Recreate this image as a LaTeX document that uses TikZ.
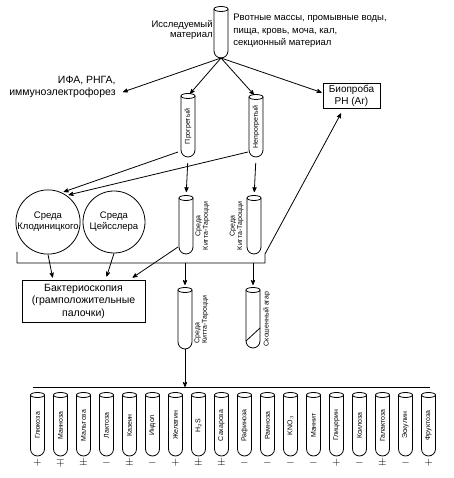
\documentclass[tikz,border=0pt]{standalone}
\usepackage{fontspec}
\setmainfont{Liberation Sans}
\usetikzlibrary{arrows,calc,positioning}

% test tube: name, centre, length, label
\newcommand{\probirka}[4]{%
  \node[tube, minimum width=#3] (#1) at #2 {#4};
  \draw (#1.north east) -- ($(#1.north west)+(0,7pt)$) arc (180:360:7pt) -- (#1.south east);
  \draw (#1.east) ellipse (7pt and 2.5pt);
}

\begin{document}
\begin{tikzpicture}[>=stealth', x=1pt, y=1pt, line width=0.8pt,
    tube/.style={rotate=90, minimum height=14pt, inner sep=0pt, outer sep=0pt, font=\fontsize{7}{8}\selectfont},
    side/.style={rotate=90, anchor=north, inner sep=1pt, font=\fontsize{7}{7.5}\selectfont},
    txt/.style={inner sep=0pt, font=\fontsize{9.5}{12.5}\selectfont},
    box/.style={draw, align=center, inner sep=1pt, font=\fontsize{10.5}{12.5}\selectfont},
    medium/.style={draw, circle, inner sep=0pt, align=center, font=\fontsize{9.5}{11}\selectfont},
    sign/.style={anchor=north, inner sep=0pt, font=\fontsize{11}{11}\selectfont}]
    \useasboundingbox (0,0) rectangle (453,478);

    % material
    \probirka{mat}{(221,444.5)}{49}{}
    \node[txt, align=right, anchor=east, font=\fontsize{9.5}{10.5}\selectfont] (src) at (213,448) {Исследуемый\\материал};
    \node[txt, align=left, anchor=west] (kinds) at (233,447) {Рвотные массы, промывные воды,\\пища, кровь, моча, кал,\\секционный материал};

    \node[txt, align=right, anchor=east, font=\fontsize{10.5}{12}\selectfont] (ifa) at (116,391) {ИФА, РНГА,\\иммуноэлектрофорез};
    \node[box, minimum width=57pt, minimum height=25pt, font=\fontsize{10}{12}\selectfont] (bio) at (351.5,382.5) {Биопроба\\РН (Аг)};

    \probirka{warm}{(188,351.5)}{61}{Прогретый}
    \probirka{cold}{(256,351)}{60}{Непрогретый}

    \path[->] (mat.west) edge ($(ifa.east)+(7,-5)$)
                         edge [shorten >=3pt] (warm.east)
                         edge [shorten >=3pt] (cold.east)
                         edge ($(bio.west)+(-1,3)$);

    % media
    \node[medium, minimum size=64pt] (klod) at (48,256) {Среда\\Клодиницкого};
    \node[medium, minimum size=62pt] (zeis) at (114,256) {Среда\\Цейсслера};

    \probirka{kt1}{(186,252)}{56}{}
    \probirka{kt2}{(254,252)}{56}{}
    \node[side, align=center] at ($(kt1.south)+(1,0)$) {Среда\\Китта-Тароцци};
    \node[side, anchor=south, align=center] at ($(kt2.north)+(-2,0)$) {Среда\\Китта-Тароцци};

    \draw[->, shorten >=2pt] ($(warm.north west)+(-3,5)$) -- (klod.65);
    \draw[->, shorten >=2pt] ($(cold.north west)+(-1,5)$) -- (klod.55);
    \draw[->, shorten <=6pt, shorten >=6pt] (warm.west) -- (kt1.east);
    \draw[->, shorten <=6pt, shorten >=6pt] (cold.west) -- (kt2.east);

    % bracket
    \coordinate (brL) at (17,226);
    \coordinate (brR) at (265,215);
    \draw[->] (brL) -- (brL |- brR) -- (brR) -- ++(0,9) -- ($(bio.south)+(-10.5,-5)$);

    \node[box, minimum width=123pt, minimum height=42pt] (bakt) at (83.5,177) {Бактериоскопия\\(грамположительные\\палочки)};
    \draw[->] (klod.south) -- ($(bakt.north west)+(31,2)$);
    \draw[->] (zeis.south) -- ($(bakt.north west)+(85,3)$);
    \draw[->] ($(kt1.north west)+(-1,7)$) -- ($(bakt.north west)+(111,2)$);

    \probirka{kt3}{(185,158.5)}{59}{}
    \probirka{agar}{(253,159)}{58}{}
    \node[side, align=left] at ($(kt3.south)+(1,0)$) {Среда\\Китта-Тароцци};
    \node[side] at ($(agar.south)+(2,0)$) {Скошенный агар};
    \draw ($(agar.north west)+(0,7)$) -- ($(agar.south west)+(0,20)$);

    \draw[->, shorten >=5pt] (brR -| kt3.east) -- (kt3.east);
    \draw[->, shorten >=5pt] (brR -| agar.east) -- (agar.east);

    % biochemical row
    \coordinate (rowL) at (33,91);
    \coordinate (rowR) at (430,91);
    \draw (rowL) -- (rowR);
    \draw[->] (kt3.west) -- (kt3.west |- rowL);

    \foreach \lbl/\sgn [count=\i from 0] in {Глюкоза/+, Манноза/\mp, Мальтоза/\pm, Лактоза/-,
        Казеин/\pm, Индол/-, Желатин/+, H$_2$S/\pm, Сахароза/\pm, Рафиноза/-, Рамноза/-,
        KNO$_3$/-, Маннит/-, Глицерин/+, Ксилоза/-, Галактоза/\pm, Эскулин/-, Фруктоза/+} {
        \probirka{r\i}{(37.5+23*\i,52.5)}{61}{\lbl}
        \node[sign] (s\i) at ($(r\i.west)+(0,-3)$) {$\sgn$};
    }
\end{tikzpicture}
\end{document}
